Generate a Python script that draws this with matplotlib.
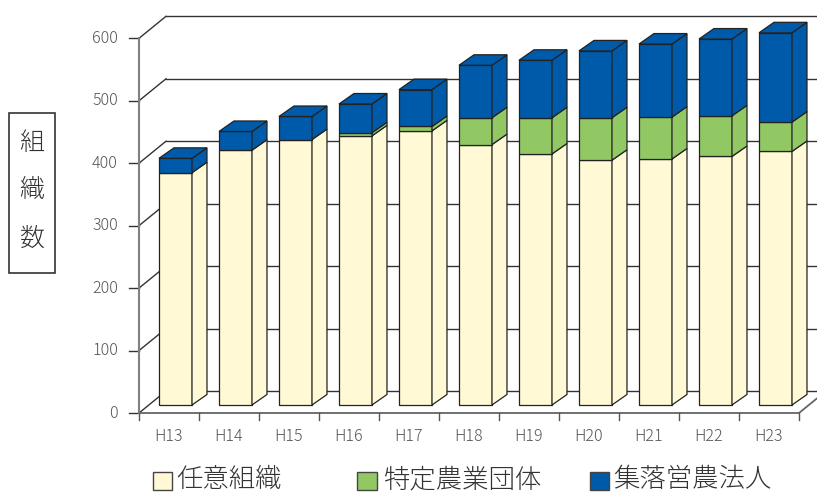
import matplotlib
matplotlib.use("Agg")
import matplotlib.pyplot as plt
from matplotlib.patches import Polygon, Rectangle

plt.rcParams['font.family'] = ['Noto Sans CJK JP', 'DejaVu Sans']

# ---- data ----
categories = ['H13', 'H14', 'H15', 'H16', 'H17', 'H18', 'H19', 'H20', 'H21', 'H22', 'H23']
nini = [372, 408, 425, 431, 439, 417, 402, 392, 394, 398, 406]          # 任意組織
tokutei = [0, 0, 0, 5, 7, 43, 58, 68, 67, 65, 47]                      # 特定農業団体
shuraku = [23, 30, 37, 46, 59, 84, 92, 107, 117, 123, 143]             # 集落営農法人
series_names = ['任意組織', '特定農業団体', '集落営農法人']
y_ticks = [0, 100, 200, 300, 400, 500, 600]
y_label = '組織数'

# ---- style ----
colors = ['#FFF9D5', '#92C864', '#005AAA']
edge = '#222222'
grid_c = '#333333'
txt_c = '#555555'

W, H = 817, 494
fig = plt.figure(figsize=(W / 100, H / 100), dpi=100)
# axes: front plane, categories 0..11 horizontally, values 0..600 vertically
ax = fig.add_axes([139 / W, (H - 413) / H, 660 / W, 374.7 / H])
n = len(categories)
ax.set_xlim(0, n)
ax.set_ylim(0, 600)
ax.axis('off')

# depth offsets (category units, value units)
wall_dx, wall_dy = 0.45, 35.2
bar_w = 0.55
bar_ox, bar_oy = 0.108, 12.8
bar_dx, bar_dy = 0.25, 16.8

def poly(pts, fc, ec=edge, lw=0.9, z=1):
    p = Polygon(pts, closed=True, facecolor=fc, edgecolor=ec, linewidth=lw,
                zorder=z, clip_on=False, joinstyle='miter')
    ax.add_patch(p)

# back wall grid lines and left wall diagonals
for v in y_ticks:
    ax.plot([wall_dx, n + wall_dx + 0.2], [v + wall_dy, v + wall_dy], color=grid_c,
            lw=1.0, zorder=0, clip_on=False)
    ax.plot([0, wall_dx], [v, v + wall_dy], color=grid_c, lw=1.0, zorder=0, clip_on=False)
    ax.plot([-0.17, 0], [v, v], color=grid_c, lw=1.0, zorder=0, clip_on=False)
    ax.text(-0.35, v, str(v), ha='right', va='center', fontsize=11.5, color=txt_c,
            fontweight='light')

# floor
ax.plot([0, n], [0, 0], color='#666666', lw=1.3, zorder=0.5, clip_on=False)
ax.plot([n, n + wall_dx], [0, wall_dy], color='#666666', lw=1.3, zorder=0.5, clip_on=False)
# front axis
ax.plot([0, 0], [0, 600], color='#808080', lw=1.5, zorder=0.5, clip_on=False)

# x ticks and labels
for i in range(n + 1):
    ax.plot([i, i], [0, -11], color='#555555', lw=1.0, zorder=0.5, clip_on=False)
for i, c in enumerate(categories):
    ax.text(i + 0.5, -38, c, ha='center', va='center', fontsize=11.5, color=txt_c,
            fontweight='light')

# bars
for i in range(n):
    segs = [nini[i], tokutei[i], shuraku[i]]
    x0 = i + (1 - bar_w) / 2 + bar_ox
    x1 = x0 + bar_w
    base = 0
    top_col = None
    for val, col in zip(segs, colors):
        if val <= 0:
            continue
        v0 = base + bar_oy
        v1 = base + val + bar_oy
        poly([(x0, v0), (x1, v0), (x1, v1), (x0, v1)], col, z=2)
        poly([(x1, v0), (x1 + bar_dx, v0 + bar_dy), (x1 + bar_dx, v1 + bar_dy), (x1, v1)], col, z=2)
        base += val
        top_col = col
    vt = base + bar_oy
    poly([(x0, vt), (x1, vt), (x1 + bar_dx, vt + bar_dy), (x0 + bar_dx, vt + bar_dy)], top_col, z=2)

# y label box
fig.patches.append(Rectangle((9 / W, (H - 273) / H), 46 / W, 160 / H, transform=fig.transFigure,
                             facecolor='none', edgecolor='#333333', lw=1.2))
fig.text(32 / W, (H - 191) / H, '\n'.join(y_label), ha='center', va='center',
         fontsize=18, color='#333333', linespacing=2.05, fontweight='light')

# legend
leg_sq = [(153, 172), (357, 377), (590, 609)]
leg_tx = [176, 383, 613]
for (s0, s1), tx, col, name in zip(leg_sq, leg_tx, colors, series_names):
    fig.patches.append(Rectangle((s0 / W, (H - 490) / H), (s1 - s0) / W, 18 / H,
                                 transform=fig.transFigure, facecolor=col,
                                 edgecolor='#444444', lw=1.0))
    fig.text(tx / W, (H - 479) / H, name, ha='left', va='center', fontsize=19,
             color='#333333', fontweight='light')

fig.savefig('out.png', dpi=100)
